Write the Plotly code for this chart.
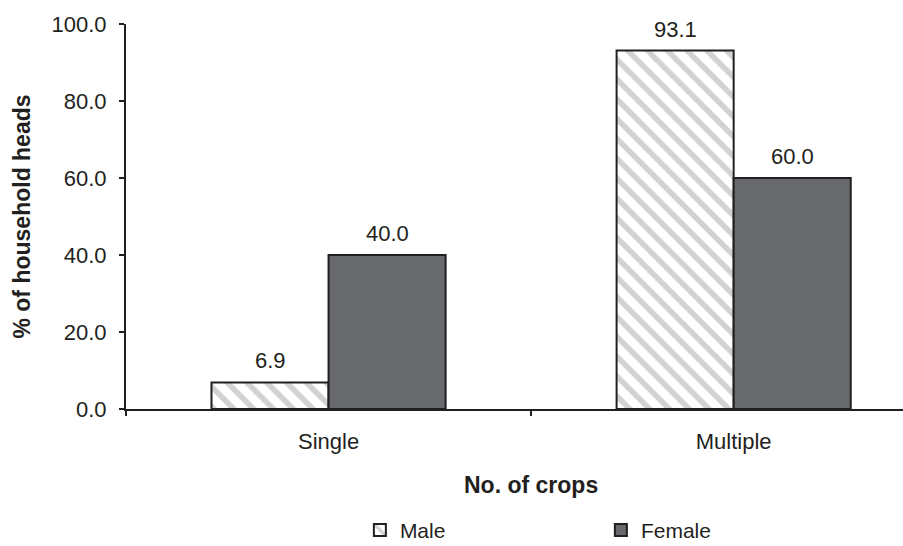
import plotly.graph_objects as go

categories = ["Single", "Multiple"]
male = [6.9, 93.1]
female = [40.0, 60.0]
y_ticks = [0, 20, 40, 60, 80, 100]

INK = "#231f20"
FONT = "Liberation Sans, Arial, sans-serif"
FS = 22
FS_TITLE = 23
FS_LEGEND = 21

# bar geometry in category units
BAR_W = 0.289
xpos = list(range(len(categories)))

fig = go.Figure()
fig.add_trace(go.Bar(
    name="Male", x=xpos, y=male, width=BAR_W, offset=-BAR_W,
    marker=dict(color="white", line=dict(color=INK, width=2),
                pattern=dict(shape="\\", fgcolor="#a5a5a5", bgcolor="white",
                             size=14, solidity=0.4, fillmode="overlay")),
))
fig.add_trace(go.Bar(
    name="Female", x=xpos, y=female, width=BAR_W, offset=0,
    marker=dict(color="#68696d", line=dict(color=INK, width=2)),
))

# value labels above each bar
for vals, sign in ((male, -1), (female, 1)):
    for i, v in enumerate(vals):
        fig.add_annotation(x=xpos[i] + sign * BAR_W / 2, y=v, text=f"{v:.1f}",
                           showarrow=False, yanchor="bottom", yshift=7,
                           font=dict(family=FONT, size=FS, color=INK))

# x-axis title centred over the category span
fig.add_annotation(x=0.5, xref="x", y=-0.197, yref="paper", text="<b>No. of crops</b>",
                   showarrow=False, yanchor="middle",
                   font=dict(family=FONT, size=FS_TITLE, color=INK))

fig.update_layout(
    width=903, height=546,
    margin=dict(l=126, r=0, t=24, b=137, autoexpand=False),
    paper_bgcolor="white", plot_bgcolor="white",
    font=dict(family=FONT, size=FS, color=INK),
    barmode="overlay",
    showlegend=True,
    legend=dict(orientation="h", x=0.301, xanchor="left", y=-0.315, yanchor="middle",
                entrywidth=196, font=dict(family=FONT, size=FS_LEGEND, color=INK)),
    xaxis=dict(range=[-0.5, 1.418], tickvals=xpos, ticktext=categories, ticks="",
               showline=True, linecolor=INK, linewidth=2, showgrid=False,
               zeroline=False, ticklabelstandoff=12, fixedrange=True),
    xaxis2=dict(overlaying="x", side="bottom", range=[-0.5, 1.418],
                tickvals=[-0.5, 0.5, 1.5], ticks="outside", ticklen=6, tickwidth=2,
                tickcolor=INK, showticklabels=False, showgrid=False, zeroline=False,
                showline=False),
    yaxis=dict(range=[0, 100], tickvals=y_ticks, tickformat=".1f", ticks="outside",
               ticklen=5, tickwidth=1.5, tickcolor=INK, showline=True, linecolor=INK,
               linewidth=2, showgrid=False, zeroline=False, ticklabelstandoff=8,
               title=dict(text="<b>% of household heads</b>", standoff=14,
                          font=dict(family=FONT, size=FS_TITLE, color=INK))),
)
# invisible trace to anchor the boundary-tick axis
fig.add_trace(go.Scatter(x=[None], y=[None], xaxis="x2", showlegend=False, hoverinfo="skip"))

fig.write_html("out.html")
